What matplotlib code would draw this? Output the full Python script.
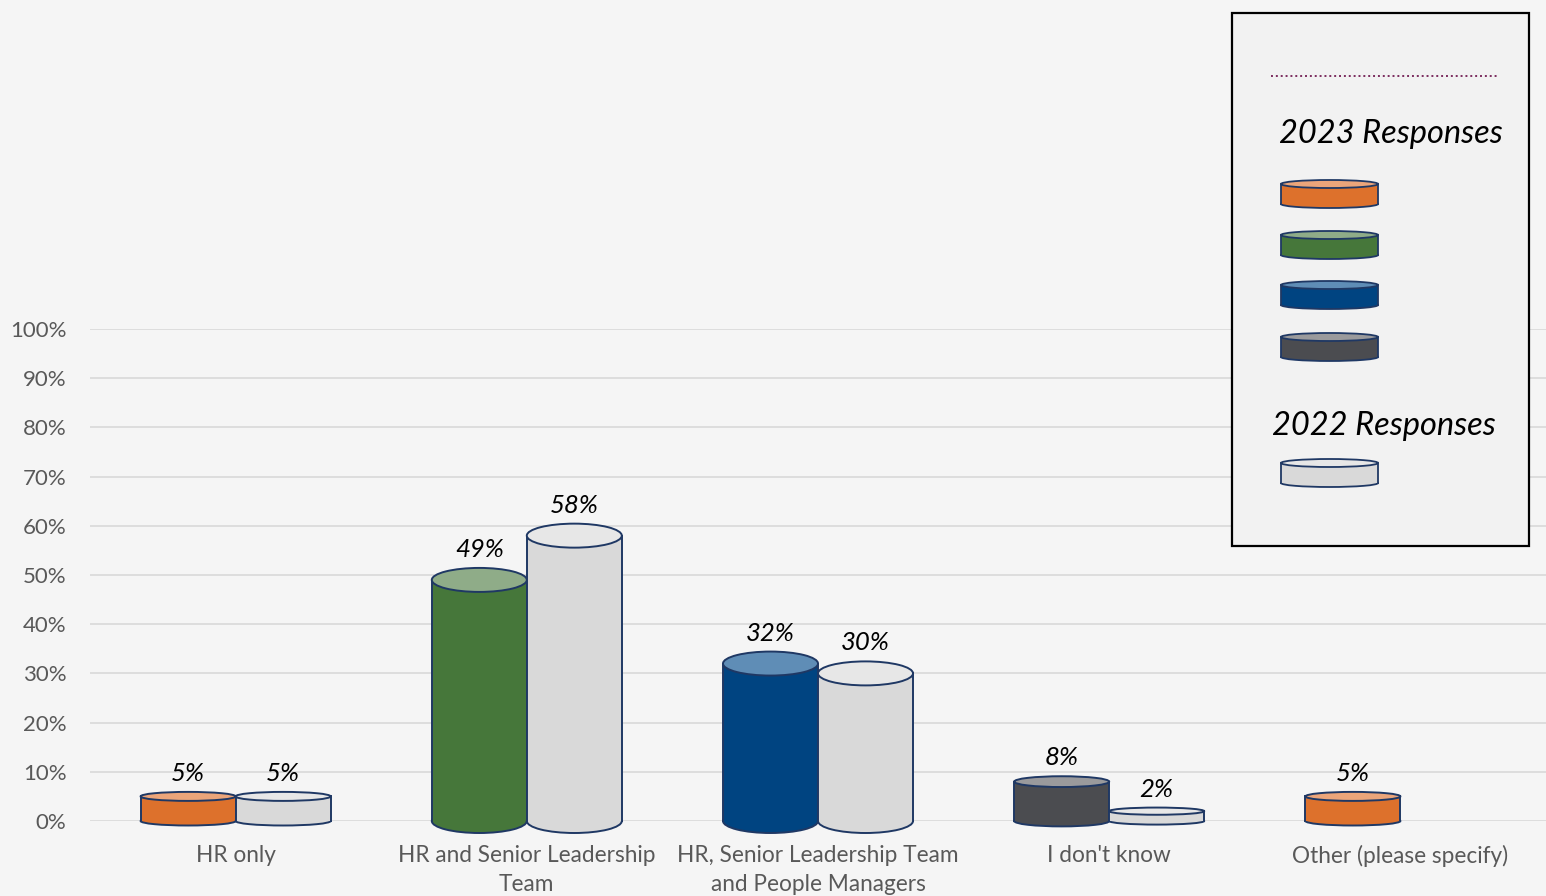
import matplotlib.pyplot as plt
from matplotlib.patches import Ellipse, Rectangle

# Survey results, percent of respondents
categories = ["HR only", "HR and Senior Leadership\nTeam",
              "HR, Senior Leadership Team\nand People Managers",
              "I don't know", "Other (please specify)"]
resp_2023 = [5, 49, 32, 8, 5]
resp_2022 = [5, 58, 30, 2, None]

# (body, lighter top) colours for each 2023 bar, then the 2022 bar
colors_2023 = [("#dd712c", "#eba57a"), ("#46773a", "#8fac88"),
               ("#004481", "#5f8db6"), ("#4b4c50", "#9a9a9c"),
               ("#dd712c", "#eba57a")]
colors_2022 = ("#d9d9d9", "#e7e7e7")
edge = "#1f3864"

W, H = 1546, 896
fig = plt.figure(figsize=(W / 100, H / 100), dpi=100)
fig.patch.set_facecolor("#f5f5f5")
plt.rcParams["font.family"] = ["Lato", "DejaVu Sans"]

AX_H = 492  # pixel height of the 0-100% range
ax = fig.add_axes([90 / W, (H - 821) / H, (1546 - 90) / W, AX_H / H])
ax.set_facecolor("none")
ax.set_xlim(0, len(categories))
ax.set_ylim(0, 1)
for s in ax.spines.values():
    s.set_visible(False)
ax.set_yticks([i / 10 for i in range(11)])
ax.set_yticklabels([f"{i * 10}%" for i in range(11)], color="#595959", fontsize=16)
ax.set_xticks([i + 0.5 for i in range(len(categories))])
ax.set_xticklabels(categories, color="#595959", fontsize=16.3, linespacing=1.5)
ax.tick_params(axis="y", length=0, pad=17)
ax.tick_params(axis="x", length=0, pad=17)
ax.grid(axis="y", color="#d9d9d9", lw=1.2)
ax.set_axisbelow(True)

bar_w = 95 / 291.2          # bar width in category units

z = [3]


def cap_height(v):
    # flatter caps for short cylinders, in axis units
    return min(24, 6 + 0.6 * v) / AX_H


def draw_cylinder(a, x0, w, y0, y1, eh, body, top, lw=1.4):
    cx = x0 + w / 2
    z[0] += 1
    zz = z[0]
    a.add_patch(Ellipse((cx, y0), w, eh, fc=body, ec=edge, lw=lw, zorder=zz, clip_on=False))
    a.add_patch(Rectangle((x0, y0), w, y1 - y0, fc=body, ec="none", zorder=zz + 0.1, clip_on=False))
    a.plot([x0, x0], [y0, y1], color=edge, lw=lw, zorder=zz + 0.2, clip_on=False)
    a.plot([x0 + w, x0 + w], [y0, y1], color=edge, lw=lw, zorder=zz + 0.2, clip_on=False)
    a.add_patch(Ellipse((cx, y1), w, eh, fc=top, ec=edge, lw=lw, zorder=zz + 0.3, clip_on=False))


def value_label(x, v):
    ax.text(x, v / 100 + cap_height(v) / 2 + 11 / AX_H, f"{v}%", ha="center", va="baseline",
            fontsize=18.5, style="italic", color="black", zorder=50)


for i, cat in enumerate(categories):
    c = i + 0.5
    v23 = resp_2023[i]
    if v23 is not None:
        draw_cylinder(ax, c - bar_w, bar_w, 0, v23 / 100, cap_height(v23), *colors_2023[i])
        value_label(c - bar_w / 2, v23)
    v22 = resp_2022[i]
    if v22 is not None:
        draw_cylinder(ax, c, bar_w, 0, v22 / 100, cap_height(v22), *colors_2022)
        value_label(c + bar_w / 2, v22)

# Legend panel, drawn in pixel coordinates
lg = fig.add_axes([0, 0, 1, 1], zorder=10)
lg.set_xlim(0, W)
lg.set_ylim(H, 0)
lg.axis("off")
lg.add_patch(Rectangle((1232, 13), 297, 533, fc="#f2f2f2", ec="black", lw=1.6))
lg.plot([1271, 1497], [76, 76], color="#7b2c5e", lw=1.4, ls=(0, (1, 1.5)))
lg.text(1279, 134, "2023 Responses", fontsize=23.5, style="italic", va="center", ha="left")
lg.text(1272, 426, "2022 Responses", fontsize=23.5, style="italic", va="center", ha="left")

icon_tops = [184, 235, 285, 337]
for yt, (body, top) in zip(icon_tops, colors_2023[:4]):
    draw_cylinder(lg, 1281, 97, yt + 20, yt, 8, body, top, lw=1.3)
draw_cylinder(lg, 1281, 97, 483, 463, 8, *colors_2022, lw=1.3)

fig.savefig("out.png", dpi=100, facecolor=fig.get_facecolor())
